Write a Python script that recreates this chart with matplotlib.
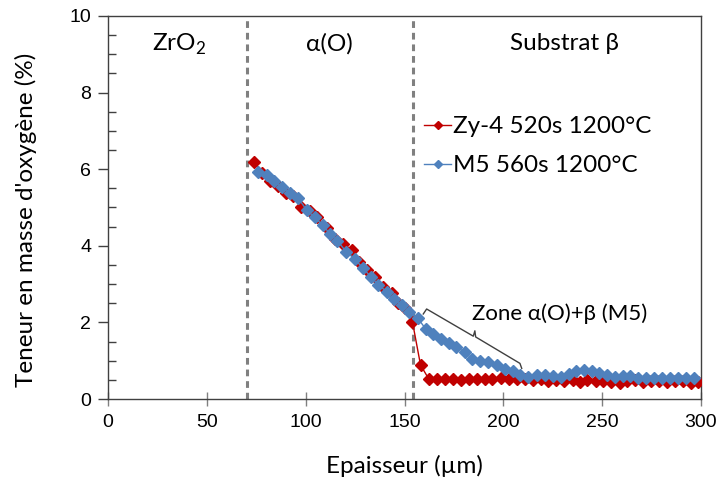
import matplotlib
matplotlib.use("Agg")
import matplotlib.pyplot as plt
from matplotlib.ticker import MultipleLocator

# ---------------- data ----------------
zy4_x = [73.8, 77.7, 81.9, 85.8, 89.9, 93.8, 97.6, 102.2, 105.5, 110.6, 114.8, 119.0,
         123.2, 127.0, 130.8, 135.0, 139.3, 143.5, 146.9, 150.2, 154.0, 158.1, 162.3,
         166.5, 170.4, 174.6, 178.4, 182.7, 186.8, 190.6, 194.5, 198.6, 202.9, 206.7,
         210.9, 215.1, 218.9, 222.7, 226.6, 230.7, 235.0, 238.7, 242.4, 246.8, 250.5,
         254.7, 259.0, 262.6, 266.6, 270.8, 274.5, 278.9, 282.6, 286.8, 290.7, 294.8, 298.6]
zy4_y = [6.20, 5.89, 5.70, 5.57, 5.39, 5.30, 5.02, 4.91, 4.76, 4.46, 4.19, 4.06,
         3.89, 3.58, 3.37, 3.19, 2.93, 2.78, 2.50, 2.37, 2.02, 0.89, 0.52,
         0.52, 0.52, 0.53, 0.50, 0.52, 0.52, 0.53, 0.53, 0.55, 0.52, 0.52,
         0.53, 0.50, 0.52, 0.48, 0.50, 0.48, 0.50, 0.45, 0.50, 0.46, 0.48,
         0.45, 0.43, 0.46, 0.50, 0.45, 0.48, 0.47, 0.45, 0.47, 0.47, 0.43, 0.45]

m5_x = [76.0, 80.3, 84.0, 87.8, 92.0, 96.3, 100.5, 104.7, 108.6, 112.3, 116.1, 120.4,
        124.9, 129.1, 133.0, 136.8, 141.0, 144.7, 148.5, 152.4, 156.6, 160.7, 164.6,
        168.4, 172.3, 176.3, 180.4, 184.3, 188.4, 192.4, 196.6, 200.8, 204.7, 208.6,
        212.6, 216.8, 221.0, 225.2, 229.3, 233.2, 237.0, 240.8, 244.7, 248.6, 252.5,
        256.4, 260.4, 264.3, 268.2, 272.3, 276.4, 280.4, 284.5, 288.5, 292.5, 296.7]
m5_y = [5.92, 5.85, 5.70, 5.54, 5.37, 5.24, 4.93, 4.74, 4.54, 4.31, 4.13, 3.85,
        3.65, 3.41, 3.19, 2.98, 2.80, 2.60, 2.45, 2.28, 2.12, 1.83, 1.69,
        1.57, 1.45, 1.37, 1.22, 1.05, 1.00, 0.97, 0.89, 0.78, 0.73, 0.62,
        0.57, 0.63, 0.63, 0.61, 0.58, 0.66, 0.72, 0.75, 0.73, 0.67, 0.63,
        0.58, 0.60, 0.61, 0.55, 0.56, 0.54, 0.56, 0.56, 0.56, 0.54, 0.54]

series_labels = ["Zy-4 520s 1200°C", "M5 560s 1200°C"]
boundaries = [70.3, 154.4]
region_labels = ["ZrO$_2$", "α(O)", "Substrat β"]
region_x = [36, 112, 231]
zone_label = "Zone α(O)+β (M5)"

xlabel = "Epaisseur (µm)"
ylabel = "Teneur en masse d'oxygène (%)"

RED = "#C00000"
BLUE = "#4F81BD"
TXT = "Lato"
NUM = "Liberation Sans"

plt.rcParams["mathtext.fontset"] = "custom"
plt.rcParams["mathtext.rm"] = TXT

fig = plt.figure(figsize=(7.2, 4.79), dpi=100)
ax = fig.add_axes([108 / 720, 80 / 479, 593 / 720, 383 / 479])

for b in boundaries:
    ax.axvline(b, color="#808080", lw=2.2, ls=(0, (2.2, 1.6)), zorder=1)

ax.plot(zy4_x, zy4_y, color=RED, lw=1.0, marker="D", ms=6.2, mfc=RED, mec=RED,
        label=series_labels[0], zorder=3)
ax.plot(m5_x, m5_y, color=BLUE, lw=1.0, marker="D", ms=6.5, mfc=BLUE, mec=BLUE,
        label=series_labels[1], zorder=4)

ax.set_xlim(0, 300)
ax.set_ylim(0, 10)
ax.xaxis.set_major_locator(MultipleLocator(50))
ax.yaxis.set_major_locator(MultipleLocator(2))
ax.yaxis.set_minor_locator(MultipleLocator(0.5))
ax.tick_params(axis="x", which="major", direction="inout", length=10, width=1,
               color="#808080", labelsize=14, pad=6)
ax.tick_params(axis="y", which="major", direction="out", length=7, width=1,
               color="#404040", labelsize=14, pad=5)
ax.tick_params(axis="y", which="minor", direction="in", length=6, width=1, color="#404040")
for lab in ax.get_xticklabels() + ax.get_yticklabels():
    lab.set_family(NUM)
for s in ax.spines.values():
    s.set_color("#404040")
    s.set_linewidth(1)

ax.set_xlabel(xlabel, family=TXT, fontsize=17.5, labelpad=17)
ax.set_ylabel(ylabel, family=TXT, fontsize=17.5)
ax.yaxis.set_label_coords(-0.12, 0.467)

for lbl, xr in zip(region_labels, region_x):
    ax.text(xr, 9.27, lbl, family=TXT, fontsize=17.5, ha="center", va="center")

# bracket for the zone annotation
bx = [159.5, 161.2, 184.8, 185.6, 186.0, 208.4, 209.3]
by = [2.22, 2.35, 1.64, 1.78, 1.62, 0.93, 0.80]
ax.plot(bx, by, color="#404040", lw=1.0, zorder=5)
ax.text(184, 2.22, zone_label, family=TXT, fontsize=16, ha="left", va="center")

leg = ax.legend(loc="upper left", bbox_to_anchor=(0.517, 0.764), frameon=False,
                prop={"family": TXT, "size": 17.5}, handlelength=1.1, handletextpad=0.1,
                labelspacing=0.75, markerscale=0.7, borderaxespad=0)

fig.savefig("out.png", dpi=100)
